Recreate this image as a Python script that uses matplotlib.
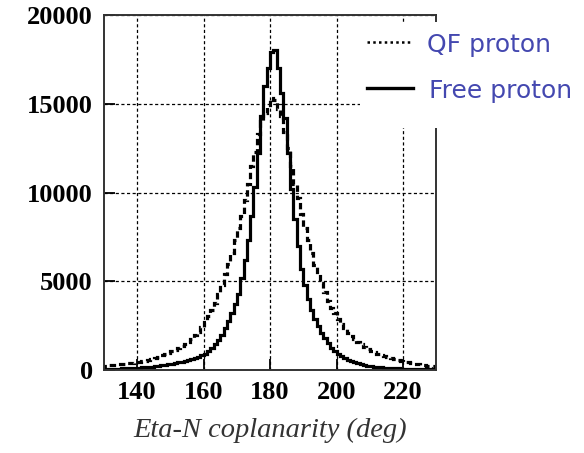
import numpy as np
import matplotlib
matplotlib.use("Agg")
import matplotlib.pyplot as plt
from matplotlib.lines import Line2D
from matplotlib.patches import Rectangle

# bin edges in degrees (1 deg bins, 130..230)
bin_start = 130
bin_stop = 230

# QF proton (dashed) counts per 1-deg bin
qf_proton = [
    250, 270, 290, 310, 330, 350, 370, 390, 410, 430,
    460, 500, 540, 590, 640, 700, 760, 830, 900, 980,
    1060, 1150, 1250, 1350, 1450, 1600, 1750, 1950, 2150, 2400,
    2700, 3050, 3400, 3800, 4300, 4800, 5400, 6000, 6600, 7300,
    8000, 8700, 9600, 10500, 11500, 12300, 13300, 14000, 14500, 14800,
    15300, 15200, 14700, 14300, 13400, 12500, 11500, 10500, 9700, 8800,
    8000, 7300, 6600, 5900, 5400, 4900, 4400, 3900, 3500, 3200,
    2900, 2600, 2350, 2100, 1900, 1750, 1600, 1450, 1300, 1200,
    1100, 1000, 920, 850, 780, 720, 660, 610, 560, 510,
    470, 430, 390, 350, 320, 290, 260, 240, 220, 200,
]

# Free proton (solid) counts per 1-deg bin
free_proton = [
    60, 70, 70, 80, 90, 100, 100, 110, 120, 130,
    140, 150, 160, 180, 200, 210, 230, 260, 290, 320,
    350, 390, 430, 480, 530, 580, 640, 700, 760, 830,
    900, 1050, 1250, 1450, 1700, 2000, 2350, 2750, 3200, 3700,
    4300, 5200, 6200, 7300, 8700, 10300, 12200, 14300, 16000, 17000,
    17900, 18000, 17000, 15600, 14200, 12200, 10200, 8500, 7000, 5700,
    4800, 4000, 3400, 2900, 2500, 2100, 1800, 1500, 1250, 1050,
    900, 780, 680, 590, 510, 440, 380, 330, 290, 250,
    220, 200, 180, 160, 140, 130, 120, 110, 100, 90,
    80, 75, 70, 65, 60, 60, 55, 55, 50, 50,
]

x_ticks = [140, 160, 180, 200, 220]
y_ticks = [0, 5000, 10000, 15000, 20000]
legend_labels = ["QF proton", "Free proton"]

edges = np.arange(bin_start, bin_stop + 1)

fig = plt.figure(figsize=(5.84, 4.53), dpi=100)
ax = fig.add_axes([0.178, 0.183, 0.569, 0.784])

ax.stairs(qf_proton, edges, color="black", lw=2.3, linestyle=(0, (2.0, 1.2)))
ax.stairs(free_proton, edges, color="black", lw=2.3)

ax.set_xlim(bin_start, bin_stop)
ax.set_ylim(0, 20000)
ax.set_xticks(x_ticks)
ax.set_yticks(y_ticks)
ax.grid(True, color="black", lw=0.9, linestyle=(0, (2.5, 2)))
ax.tick_params(direction="in", length=8, width=1.3, pad=8,
               top=False, right=False)
for lab in ax.get_xticklabels() + ax.get_yticklabels():
    lab.set_fontfamily("Liberation Serif")
    lab.set_fontweight("bold")
    lab.set_fontsize(19)
for s in ax.spines.values():
    s.set_linewidth(1.4)
    s.set_color("#333333")

ax.set_xlabel("Eta-N coplanarity (deg)", fontfamily="Liberation Serif",
              fontstyle="italic", fontsize=20.5, color="#333333", labelpad=10)

# legend drawn as an overlay box on the figure
W, H = 584, 453
def fx(px):
    return px / W
def fy(py):
    return 1 - py / H

fig.add_artist(Rectangle((fx(360), fy(128)), fx(584) - fx(360), fy(22) - fy(128),
                         transform=fig.transFigure, facecolor="white",
                         edgecolor="none", zorder=5))
fig.add_artist(Line2D([fx(367), fx(410)], [fy(42), fy(42)], transform=fig.transFigure,
                      color="black", lw=1.8, linestyle=(0, (1, 1.3)), zorder=6))
fig.add_artist(Line2D([fx(367), fx(413)], [fy(88), fy(88)], transform=fig.transFigure,
                      color="black", lw=2.4, zorder=6))
fig.text(fx(427), fy(45), legend_labels[0], color="#4448B0", fontsize=18,
         va="center", ha="left", zorder=7)
fig.text(fx(429), fy(91), legend_labels[1], color="#4448B0", fontsize=18,
         va="center", ha="left", zorder=7)

fig.savefig("out.png", dpi=100)
